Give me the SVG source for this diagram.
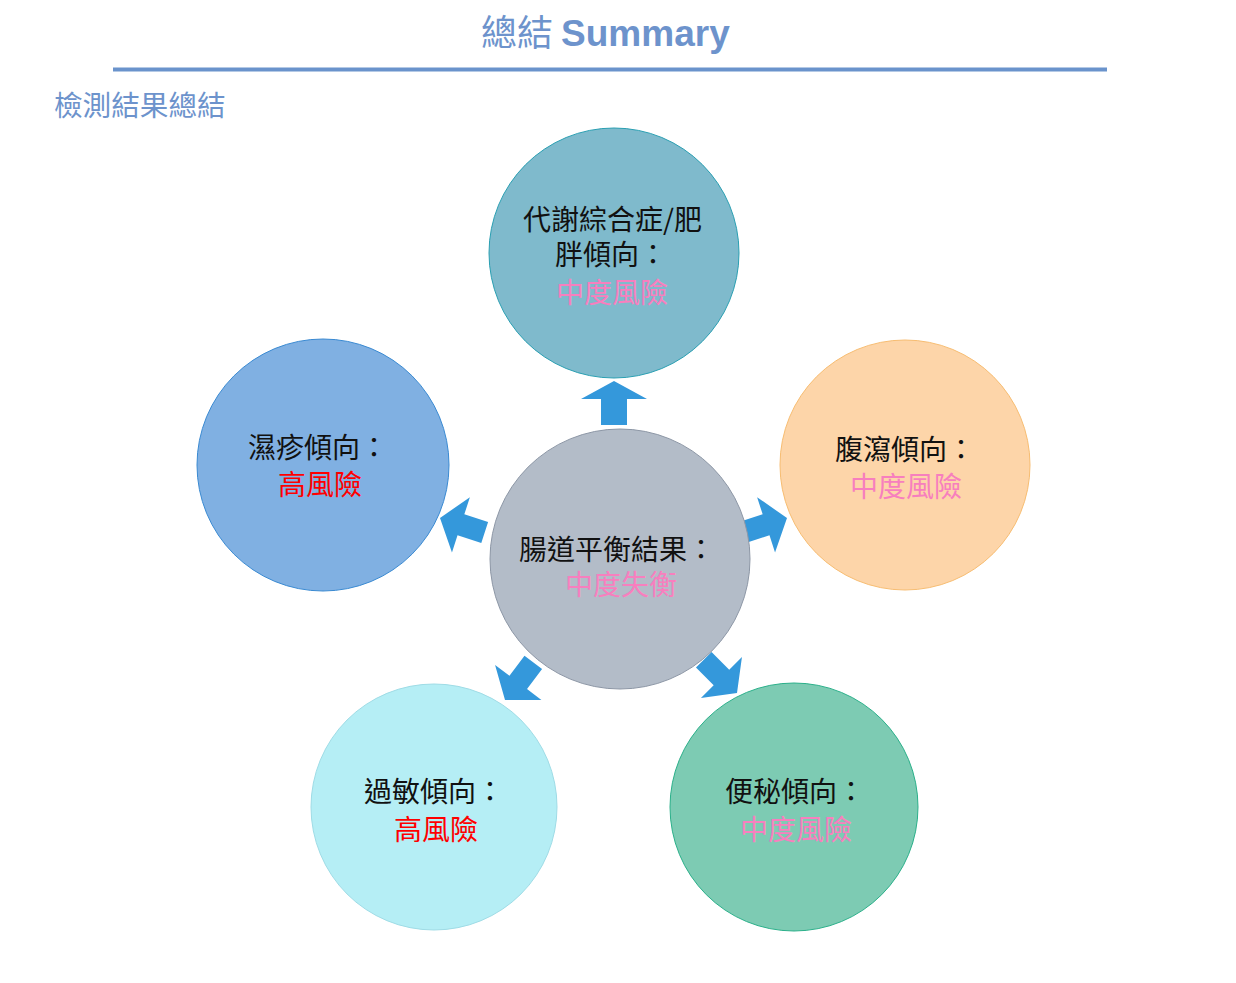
<svg xmlns="http://www.w3.org/2000/svg" width="1236" height="983" viewBox="0 0 1236 983">
<defs>
<style>
.t{font-family:"Noto Sans CJK TC","Liberation Sans",sans-serif;font-size:28px;fill:#111111}
.p{fill:#f77fbe}
.r{fill:#ff0000}
.arr{fill:#3498db}
</style>
<path id="da" d="M0,0 L-22,-29 L-22,-11 L-47,-11 L-47,11 L-22,11 L-22,29 Z"/>
</defs>
<rect width="1236" height="983" fill="#ffffff"/>
<g id="title">
<text x="481" y="46" style="font-family:'Noto Sans CJK TC',sans-serif;font-size:36px;fill:#6d93cc">總結 <tspan style="font-family:'Liberation Sans',sans-serif;font-weight:bold;font-size:37px">Summary</tspan></text>
<line x1="113" y1="69.5" x2="1107" y2="69.5" stroke="#6a93cc" stroke-width="4"/>
<text x="54" y="116" style="font-family:'Noto Sans CJK TC',sans-serif;font-size:28.6px;fill:#6d93cc">檢測結果總結</text>
</g>
<g id="connectors">
<path class="arr" d="M614,381 L647,399 L627,399 L627,425 L601,425 L601,399 L581,399 Z"/>
<use href="#da" class="arr" transform="translate(440,518) rotate(198)"/>
<use href="#da" class="arr" transform="translate(787,518) rotate(-18)"/>
<use href="#da" class="arr" transform="translate(505,700) rotate(127)"/>
<use href="#da" class="arr" transform="translate(737,693) rotate(45)"/>
</g>
<g id="node-top">
<circle cx="614" cy="253" r="125" fill="#7fbacc" stroke="#2a9fb2" stroke-width="1"/>
<text class="t" x="523" y="230">代謝綜合症/肥</text>
<text class="t" x="555" y="265">胖傾向：</text>
<text class="t p" x="556" y="303">中度風險</text>
</g>
<g id="node-left">
<circle cx="323" cy="465" r="126" fill="#80b0e2" stroke="#3a8ad2" stroke-width="1"/>
<text class="t" x="248" y="458">濕疹傾向：</text>
<text class="t r" x="278" y="495">高風險</text>
</g>
<g id="node-right">
<circle cx="905" cy="465" r="125" fill="#fdd5a9" stroke="#f7bd72" stroke-width="1"/>
<text class="t" x="835" y="460">腹瀉傾向：</text>
<text class="t p" x="850" y="497">中度風險</text>
</g>
<g id="node-center">
<circle cx="620" cy="559" r="130" fill="#b3bcc8" stroke="#8d97a6" stroke-width="1"/>
<text class="t" x="519" y="560">腸道平衡結果：</text>
<text class="t p" x="565" y="595">中度失衡</text>
</g>
<g id="node-bottom-left">
<circle cx="434" cy="807" r="123" fill="#b5eef5" stroke="#9fdce6" stroke-width="1"/>
<text class="t" x="364" y="802">過敏傾向：</text>
<text class="t r" x="394" y="840">高風險</text>
</g>
<g id="node-bottom-right">
<circle cx="794" cy="807" r="124" fill="#7dcbb3" stroke="#2bb08a" stroke-width="1"/>
<text class="t" x="725" y="802">便秘傾向：</text>
<text class="t p" x="740" y="840">中度風險</text>
</g>
</svg>
